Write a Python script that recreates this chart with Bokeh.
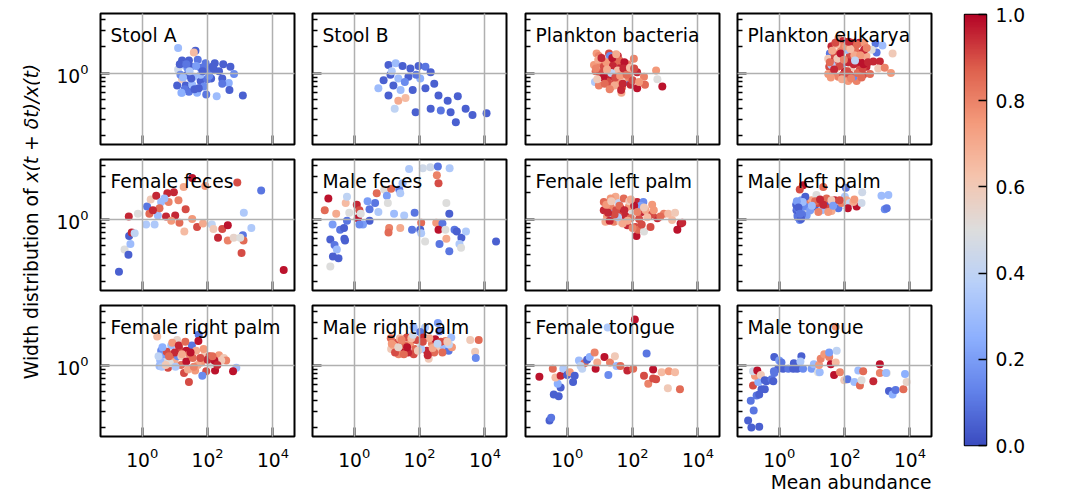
import numpy as np
from bokeh.plotting import figure
from bokeh.layouts import row, column
from bokeh.models import (Range1d, FixedTicker, LinearColorMapper, ColumnDataSource, Label, Title,
                          CustomJSTickFormatter, PrintfTickFormatter)
from bokeh.transform import transform
from bokeh.embed import file_html
from bokeh.resources import INLINE

FONT = "DejaVu Sans"
FS = "18.7px"

# ---------------- data (log10 of mean abundance, log10 of width ratio, p-value) -------------
titles = ["Stool A", "Stool B", "Plankton bacteria", "Plankton eukarya",
          "Female feces", "Male feces", "Female left palm", "Male left palm",
          "Female right palm", "Male right palm", "Female tongue", "Male tongue"]

sa_lx = [1.10,1.63,1.58,1.22,1.43,1.70,1.17,1.10,1.38,1.79,1.99,2.22,2.48,2.70,2.81,2.19,2.11,2.45,2.65,2.45,2.67,3.08,2.28,1.96,1.68,1.43,1.22,1.07,1.22,1.33,1.53,1.79,1.89,1.58,1.38,1.17,1.79,1.99,1.73,1.48,1.94,2.35,
         1.15,1.25,1.35,1.50,1.65,1.85,2.05,1.30,1.45,1.60,2.15,1.20]
sa_ly = [0.28,0.25,0.23,0.14,0.14,0.15,0.09,0.04,0.06,0.06,0.04,0.11,0.10,0.07,-0.01,0.04,-0.06,-0.06,-0.11,-0.12,-0.19,-0.25,-0.26,-0.24,-0.22,-0.21,-0.22,-0.14,-0.07,-0.14,-0.13,-0.09,-0.15,-0.04,-0.02,-0.02,-0.02,-0.07,-0.17,0.07,0.11,0.02,
         0.10,-0.05,0.10,-0.06,0.08,0.02,-0.03,-0.18,0.02,-0.18,0.07,-0.22]
sa_p = [0.30,0.05,0.65,0.05,0.05,0.10,0.30,0.45,0.15,0.10,0.10,0.05,0.05,0.05,0.15,0.05,0.05,0.05,0.25,0.10,0.05,0.05,0.30,0.10,0.25,0.10,0.30,0.05,0.60,0.05,0.30,0.05,0.15,0.30,0.05,0.15,0.30,0.10,0.05,0.05,0.10,0.05,
        0.05,0.30,0.10,0.05,0.20,0.05,0.15,0.10,0.35,0.05,0.05,0.25]

sb_lx = [1.05,1.27,1.48,1.72,1.97,2.18,1.11,1.35,1.66,2.02,2.34,1.20,1.42,1.05,1.35,1.57,1.24,1.79,2.18,2.58,2.86,3.17,3.41,3.62,4.05,2.95,2.34,1.88,2.65,3.11,0.74,0.90,1.55,1.90,1.15,2.45]
sb_ly = [0.09,0.11,0.08,0.05,0.08,0.07,-0.02,-0.06,-0.04,-0.06,0.01,-0.14,-0.19,-0.25,-0.31,-0.28,-0.40,-0.19,-0.17,-0.25,-0.31,-0.26,-0.40,-0.47,-0.45,-0.44,-0.40,-0.44,-0.42,-0.55,-0.17,-0.08,-0.10,-0.02,0.02,-0.12]
sb_p = [0.05,0.30,0.05,0.05,0.05,0.10,0.05,0.30,0.05,0.25,0.05,0.05,0.30,0.05,0.70,0.65,0.40,0.05,0.05,0.05,0.05,0.05,0.05,0.05,0.05,0.05,0.05,0.05,0.10,0.05,0.30,0.05,0.15,0.10,0.35,0.05]

pb_lx = [0.90,1.28,1.55,1.33,1.51,2.04,0.82,1.02,0.87,1.17,1.63,1.79,1.94,2.14,2.35,2.72,2.76,2.91,2.38,2.14,0.85,0.97,1.33,1.66,1.84,1.48,1.17,1.73,1.94,1.07,1.43,1.58,1.28,1.79,1.31,1.53,1.68,0.97,1.12,1.89,
         1.00,1.20,1.40,1.60,1.25,1.45,1.70,1.85,1.55,1.10,2.00,1.35,0.95,1.75,2.20,
         0.88,1.05,1.15,1.22,1.38,1.47,1.62,1.72,1.82,1.92,2.05,1.30,1.50,1.65,0.92]
pb_ly = [0.22,0.22,0.19,0.15,0.13,0.16,0.09,0.11,0.02,0.06,0.06,0.04,0.02,0.01,-0.04,0.03,-0.07,-0.15,-0.13,-0.17,-0.10,-0.14,-0.16,-0.22,-0.10,-0.09,-0.07,-0.06,-0.13,-0.02,-0.02,0.00,-0.04,0.09,0.19,-0.11,-0.16,0.19,0.07,-0.05,
         0.00,0.12,0.08,0.14,-0.10,-0.14,-0.12,0.10,0.03,-0.05,-0.08,0.00,0.15,0.12,-0.10,
         0.05,0.17,-0.12,0.04,0.17,-0.05,-0.03,0.05,-0.02,0.06,0.05,-0.18,0.21,-0.19,-0.07]
pb_p = [0.75,0.90,0.95,0.95,0.85,0.80,0.75,0.80,0.85,0.70,0.95,0.90,0.80,0.95,0.80,0.75,0.50,0.98,0.85,0.98,0.35,0.80,0.80,0.70,0.10,0.90,0.65,0.60,0.95,0.60,0.20,0.90,0.95,0.95,0.15,0.75,0.85,0.80,0.90,0.80,
        0.90,0.75,0.95,0.85,0.90,0.70,0.95,0.80,0.65,0.98,0.90,0.40,0.70,0.98,0.75,
        0.80,0.95,0.85,0.70,0.98,0.90,0.75,0.95,0.85,0.65,0.90,0.80,0.70,0.95,0.60]

pe_lx = [1.81,1.96,2.21,2.45,2.60,2.95,3.16,2.98,3.47,2.88,3.08,3.03,3.23,3.42,1.60,1.55,1.50,1.53,1.50,1.81,2.11,2.37,2.27,2.57,2.78,2.67,2.37,1.96,2.16,1.86,2.06,2.47,2.67,1.76,2.01,2.47,1.70,2.21,2.83,2.32,1.60,2.16,
         1.70,1.90,2.10,2.30,2.50,1.65,1.85,2.05,2.40,2.60,1.75,2.20,1.95,2.55,
         1.55,1.62,1.68,1.78,1.88,1.98,2.08,2.18,2.28,2.38,2.48,2.58,2.68,1.58,1.72,1.92,2.12,2.32,2.52,2.72]
pe_ly = [0.39,0.36,0.34,0.34,0.34,0.33,0.31,0.23,0.22,0.13,0.13,0.05,0.06,0.00,0.30,0.22,0.16,0.07,-0.01,-0.04,-0.09,-0.09,-0.04,-0.02,-0.01,0.07,0.11,0.11,0.19,0.24,0.26,0.22,0.19,0.06,0.02,0.04,0.15,0.06,0.26,0.26,0.09,-0.02,
         0.20,0.30,0.12,0.20,0.12,0.00,0.08,0.30,0.00,0.26,0.32,-0.06,-0.02,0.05,
         0.12,0.25,0.04,0.16,0.22,0.15,0.02,0.27,0.10,0.32,0.20,0.10,0.28,-0.05,0.34,-0.07,0.35,0.14,-0.05,0.12]
pe_p = [0.70,0.95,0.95,0.98,0.75,0.10,0.30,0.10,0.60,0.95,0.95,0.60,0.80,0.75,0.95,0.10,0.60,0.90,0.75,0.80,0.75,0.80,0.15,0.90,0.85,0.95,0.95,0.20,0.90,0.75,0.30,0.95,0.70,0.70,0.98,0.90,0.95,0.60,0.50,0.85,0.35,0.90,
        0.90,0.80,0.95,0.70,0.98,0.80,0.90,0.75,0.85,0.95,0.65,0.80,0.90,0.90,
        0.85,0.70,0.95,0.60,0.98,0.80,0.90,0.65,0.95,0.85,0.75,0.98,0.80,0.75,0.90,0.70,0.95,0.40,0.85,0.95]

ff_lx = [-0.71,-0.54,-0.42,-0.36,-0.40,-0.32,-0.23,-0.41,-0.13,0.12,0.15,0.22,0.26,0.43,0.48,0.38,0.58,0.53,0.77,0.81,0.73,0.97,1.11,1.14,1.01,1.29,1.27,1.53,1.33,1.53,1.68,1.93,1.86,2.13,2.18,2.32,2.45,2.62,2.62,2.80,2.91,3.11,3.08,3.10,3.04,3.00,3.34,3.64,4.33,0.68,0.89,0.33]
ff_ly = [-0.59,-0.34,-0.40,-0.28,-0.19,-0.15,-0.16,0.03,0.06,-0.06,0.14,0.06,0.22,0.26,0.04,-0.06,0.19,0.12,0.29,0.19,0.03,0.30,0.21,-0.04,0.04,-0.14,0.36,0.46,0.11,0.00,-0.09,0.37,-0.05,-0.06,-0.11,-0.21,-0.11,-0.07,-0.24,-0.21,0.41,0.07,-0.18,-0.24,-0.38,-0.21,-0.10,0.32,-0.57,0.23,-0.02,0.10]
ff_p = [0.05,0.50,0.05,0.30,0.05,0.95,0.40,0.95,0.50,0.35,0.10,0.85,0.60,0.95,0.30,0.35,0.30,0.85,0.95,0.80,0.95,0.95,0.80,0.85,0.95,0.65,0.70,0.98,0.90,0.75,0.90,0.75,0.70,0.40,0.60,0.95,0.90,0.98,0.80,0.55,0.90,0.35,0.10,0.85,0.90,0.50,0.35,0.10,0.98,0.30,0.75,0.95]

mf_lx = [-0.79,-0.90,-0.55,-0.26,-0.22,-0.15,0.08,0.16,0.11,0.20,0.47,0.47,0.27,0.64,0.69,0.74,0.92,1.00,1.03,1.13,1.22,1.38,1.41,1.48,1.68,1.53,1.85,1.77,1.41,1.07,1.05,2.05,2.02,2.05,2.17,2.10,2.33,2.56,2.53,2.58,2.92,2.82,2.91,2.51,2.70,2.58,2.79,2.82,2.61,2.91,3.07,3.14,3.28,3.42,3.22,3.27,4.34,-0.66,-0.43,-0.31,-0.73,-0.60,-0.53,-0.65,-0.48,-0.73,-0.30,-0.28,-0.22,0.41,0.16]
mf_ly = [0.23,0.10,0.06,0.18,0.25,0.07,0.16,0.10,0.01,0.06,0.11,-0.02,-0.06,0.18,0.29,0.08,0.33,0.26,0.18,0.34,0.06,0.33,0.29,0.40,0.56,0.04,0.07,-0.12,-0.10,-0.10,-0.15,-0.04,-0.12,-0.16,-0.25,0.57,0.58,0.59,0.49,0.40,0.57,0.18,0.06,-0.04,-0.05,-0.12,-0.12,-0.22,-0.28,-0.36,-0.12,-0.14,-0.21,-0.14,-0.28,-0.32,-0.25,-0.06,-0.12,-0.10,-0.23,-0.29,-0.34,-0.42,-0.44,-0.53,-0.22,-0.24,-0.02,0.20,-0.06]
mf_p = [0.98,0.85,0.70,0.65,0.40,0.50,0.95,0.90,0.98,0.50,0.10,0.05,0.20,0.10,0.85,0.35,0.50,0.20,0.50,0.85,0.30,0.10,0.35,0.30,0.35,0.35,0.10,0.10,0.70,0.80,0.85,0.85,0.05,0.35,0.50,0.45,0.45,0.10,0.80,0.90,0.35,0.50,0.05,0.75,0.10,0.98,0.50,0.70,0.10,0.10,0.10,0.05,0.05,0.35,0.35,0.50,0.05,0.20,0.10,0.05,0.05,0.10,0.30,0.05,0.05,0.50,0.05,0.05,0.10,0.20,0.15]

fl_lx = [1.12,1.12,1.22,1.33,1.48,1.58,1.73,1.68,1.43,1.63,1.84,1.89,1.99,2.14,2.33,2.30,2.09,2.12,2.17,2.35,2.50,2.55,2.60,2.76,2.96,3.09,3.30,3.21,3.37,3.47,3.52,1.17,1.38,1.79,1.94,1.63,1.33,1.50,1.90,2.20,2.40,1.30,2.00,1.70,2.60,1.55,2.25,
         1.20,1.35,1.45,1.60,1.75,1.85,2.05,2.15,2.28,2.45,2.65,2.85,1.25,1.95,2.35]
fl_ly = [0.19,0.10,0.03,0.14,0.25,0.18,0.23,0.08,-0.03,-0.03,-0.07,0.14,0.06,0.19,0.19,0.08,-0.09,-0.19,-0.12,-0.14,0.04,-0.09,0.16,0.01,0.06,0.06,0.07,-0.01,-0.12,-0.05,-0.04,-0.03,0.06,0.03,0.01,0.12,0.23,0.10,0.20,0.00,0.10,-0.02,-0.10,-0.05,0.05,0.02,0.15,
         0.16,0.20,0.05,0.15,0.10,-0.02,0.15,0.08,-0.06,0.02,0.10,0.03,0.07,0.22,0.13]
fl_p = [0.85,0.95,0.75,0.80,0.70,0.40,0.85,0.90,0.80,0.60,0.95,0.75,0.50,0.95,0.15,0.95,0.90,0.98,0.85,0.50,0.85,0.90,0.75,0.95,0.80,0.65,0.60,0.65,0.98,0.98,0.95,0.70,0.30,0.95,0.85,0.98,0.75,0.90,0.60,0.90,0.70,0.95,0.80,0.70,0.90,0.35,0.20,
        0.75,0.60,0.90,0.85,0.95,0.70,0.98,0.80,0.90,0.65,0.75,0.85,0.95,0.70,0.60]

ml_lx = [0.73,0.63,1.35,0.58,0.53,0.56,0.63,0.73,0.84,0.89,0.99,1.09,1.19,1.30,1.40,1.45,1.55,1.70,1.81,1.91,2.01,2.06,2.16,2.37,2.52,2.54,2.04,3.13,3.34,3.23,3.29,0.68,1.14,1.60,0.84,2.27,
         1.10,1.35,1.60,1.85,2.10,2.30,0.90,
         0.55,0.60,0.65,0.70,0.78,0.80,0.95,1.00,1.20,1.25,1.50,1.65,
         0.52,0.57,0.62,0.67,0.72,0.54,0.59,0.64]
ml_ly = [0.38,0.33,0.36,0.16,0.10,0.04,-0.01,0.12,0.19,0.08,0.21,0.14,0.18,0.10,0.16,0.23,0.12,0.21,0.12,0.18,0.25,0.21,0.18,0.14,0.18,0.30,0.35,0.26,0.27,0.11,0.12,0.21,0.27,0.21,0.04,0.19,
         0.20,0.16,0.09,0.21,0.12,0.22,0.15,
         0.12,0.07,0.18,0.05,0.14,0.25,0.10,0.15,0.08,0.22,0.08,0.15,
         0.16,0.02,0.10,0.00,0.19,0.20,0.13,0.06]
ml_p = [0.98,0.90,0.85,0.10,0.05,0.10,0.15,0.30,0.85,0.50,0.70,0.05,0.90,0.30,0.05,0.85,0.90,0.95,0.10,0.80,0.35,0.70,0.40,0.98,0.45,0.45,0.10,0.30,0.30,0.15,0.10,0.20,0.50,0.60,0.20,0.70,
        0.85,0.95,0.70,0.90,0.98,0.75,0.80,
        0.10,0.05,0.20,0.10,0.15,0.05,0.20,0.30,0.80,0.95,0.75,0.20,
        0.05,0.10,0.15,0.05,0.30,0.20,0.05,0.10]

fr_lx = [0.46,1.07,1.52,1.73,1.72,0.58,0.89,1.14,1.35,1.45,1.91,2.06,2.35,2.50,2.57,2.88,2.78,2.23,1.96,1.84,1.62,1.28,1.43,1.19,0.99,0.68,0.53,0.79,1.81,2.11,2.42,2.21,0.66,0.94,1.65,1.09,0.55,0.70,0.85,1.00,1.20,1.35,1.55,1.70,0.60,0.75,1.40,2.00,
         0.50,0.62,0.72,0.82,0.92,1.02,1.12,1.22,1.32,1.48,1.58,1.78,1.88,2.15,2.30]
fr_ly = [0.32,0.28,0.22,0.34,0.27,0.16,0.22,0.18,0.16,0.12,0.12,0.10,0.11,0.08,0.05,-0.03,-0.07,-0.06,-0.07,-0.12,-0.06,-0.09,-0.19,0.00,0.05,0.07,-0.01,-0.03,0.03,0.01,0.05,0.05,0.01,0.12,0.16,0.10,0.05,0.12,0.02,0.14,0.10,0.04,0.08,0.00,-0.02,0.15,-0.05,0.06,
         0.10,0.20,0.00,0.10,0.25,-0.02,0.22,0.12,0.26,0.14,-0.02,0.08,0.18,0.10,0.00]
fr_p = [0.65,0.55,0.10,0.10,0.98,0.15,0.30,0.90,0.98,0.80,0.60,0.90,0.75,0.60,0.80,0.30,0.98,0.98,0.90,0.15,0.75,0.90,0.90,0.85,0.70,0.45,0.30,0.90,0.75,0.50,0.60,0.98,0.60,0.85,0.70,0.15,0.30,0.20,0.50,0.95,0.60,0.98,0.85,0.70,0.35,0.90,0.70,0.95,
        0.40,0.25,0.60,0.85,0.75,0.35,0.95,0.70,0.85,0.98,0.80,0.90,0.75,0.85,0.95]

mr_lx = [1.82,2.17,2.56,2.61,2.97,3.55,3.81,3.70,3.72,2.02,1.12,1.13,1.31,1.46,1.61,1.71,1.87,2.02,2.12,2.22,2.38,2.48,2.58,2.73,2.89,2.99,2.28,2.79,1.36,1.56,1.82,1.20,1.40,1.55,1.90,2.05,2.30,2.65,2.90,1.65,2.45,
         1.15,1.25,1.35,1.45,1.52,1.62,1.75,1.95,2.10,2.25,2.40,2.55,2.70,2.85,1.80]
mr_ly = [0.42,0.42,0.47,0.38,0.31,0.28,0.28,0.15,0.08,0.37,0.30,0.18,0.25,0.20,0.31,0.24,0.18,0.24,0.31,0.16,0.24,0.29,0.18,0.22,0.16,0.20,0.07,0.27,0.12,0.16,0.12,0.22,0.30,0.22,0.28,0.18,0.30,0.26,0.23,0.14,0.14,
         0.24,0.14,0.20,0.28,0.12,0.20,0.30,0.16,0.26,0.11,0.19,0.24,0.14,0.26,0.34]
mr_p = [0.30,0.35,0.20,0.10,0.30,0.60,0.85,0.60,0.15,0.10,0.85,0.60,0.90,0.95,0.90,0.75,0.85,0.50,0.95,0.95,0.80,0.98,0.60,0.30,0.10,0.75,0.60,0.80,0.80,0.98,0.90,0.70,0.65,0.85,0.90,0.35,0.70,0.90,0.40,0.95,0.85,
        0.75,0.90,0.55,0.80,0.85,0.98,0.65,0.60,0.90,0.95,0.70,0.40,0.85,0.60,0.45]

ft_lx = [-0.85,-0.54,-0.49,-0.41,-0.26,-0.20,-0.29,-0.36,-0.44,-0.20,-0.12,0.00,0.08,0.18,0.23,0.36,0.46,0.53,0.61,0.69,0.84,0.87,0.92,1.14,1.24,1.26,1.31,1.46,1.51,1.63,1.84,2.02,2.07,2.43,2.35,2.48,2.63,2.63,2.72,2.89,3.11,3.30,3.08,3.45,0.41]
ft_ly = [-0.13,-0.62,-0.59,-0.33,-0.35,-0.25,-0.21,-0.14,-0.04,-0.12,-0.04,-0.11,-0.08,-0.19,-0.12,0.05,-0.04,0.02,0.06,0.09,0.14,-0.04,0.03,0.09,0.42,-0.11,0.03,0.10,-0.01,-0.01,-0.06,-0.04,0.51,0.13,-0.12,-0.21,-0.05,-0.15,-0.16,-0.08,-0.07,-0.08,-0.26,-0.27,-0.01]
ft_p = [0.98,0.05,0.10,0.05,0.05,0.05,0.25,0.65,0.85,0.95,0.35,0.05,0.75,0.05,0.05,0.30,0.40,0.85,0.05,0.25,0.80,0.98,0.70,0.98,0.35,0.15,0.80,0.60,0.30,0.85,0.95,0.85,0.98,0.10,0.90,0.80,0.98,0.90,0.90,0.65,0.75,0.65,0.60,0.85,0.40]

mt_lx = [-0.95,-0.85,-0.61,-0.78,-0.87,-0.69,-0.61,-0.80,-0.54,-0.64,-0.74,-0.80,-0.67,-0.56,-0.44,-0.39,-0.23,-0.18,-0.15,-0.15,0.00,0.07,-0.03,0.12,0.28,0.43,0.45,0.55,0.68,0.73,0.65,0.99,1.06,1.19,1.24,1.22,1.27,1.38,1.53,1.58,1.68,1.73,1.53,1.76,1.73,1.86,1.99,2.09,2.30,2.47,2.42,2.57,2.52,2.88,3.08,3.08,3.29,3.27,3.36,3.47,3.56,3.80,3.85,3.90,-0.16,-0.44]
mt_ly = [-0.62,-0.70,-0.69,-0.51,-0.40,-0.34,-0.33,-0.23,-0.27,-0.19,-0.12,-0.07,-0.06,-0.11,-0.17,-0.18,-0.16,-0.18,-0.09,0.09,0.05,0.03,-0.04,-0.04,-0.04,-0.04,0.02,-0.04,0.10,-0.04,0.04,-0.04,0.01,-0.08,-0.08,0.00,0.07,0.12,0.09,0.01,-0.11,0.43,0.14,0.16,0.03,-0.08,-0.17,-0.16,-0.19,-0.23,-0.06,-0.07,-0.17,-0.18,0.01,-0.09,-0.09,-0.09,-0.29,-0.33,-0.28,-0.27,-0.10,-0.19,-0.07,-0.27]
mt_p = [0.05,0.05,0.05,0.10,0.10,0.10,0.05,0.90,0.05,0.25,0.75,0.45,0.98,0.60,0.05,0.05,0.10,0.05,0.10,0.05,0.20,0.10,0.05,0.05,0.10,0.05,0.05,0.05,0.05,0.15,0.35,0.20,0.30,0.50,0.30,0.75,0.80,0.75,0.80,0.98,0.98,0.75,0.20,0.40,0.65,0.80,0.60,0.10,0.30,0.85,0.30,0.85,0.50,0.95,0.98,0.80,0.50,0.30,0.05,0.25,0.10,0.85,0.25,0.55,0.10,0.05]

panel_data = [(sa_lx, sa_ly, sa_p), (sb_lx, sb_ly, sb_p), (pb_lx, pb_ly, pb_p), (pe_lx, pe_ly, pe_p),
              (ff_lx, ff_ly, ff_p), (mf_lx, mf_ly, mf_p), (fl_lx, fl_ly, fl_p), (ml_lx, ml_ly, ml_p),
              (fr_lx, fr_ly, fr_p), (mr_lx, mr_ly, mr_p), (ft_lx, ft_ly, ft_p), (mt_lx, mt_ly, mt_p)]

x_ticks = [1, 100, 10000]
y_ticks = [1]
y_minor = [0.2, 0.3, 0.4, 0.5, 0.6, 0.7, 0.8, 0.9, 2, 3, 4]
cbar_ticks = [0.0, 0.2, 0.4, 0.6, 0.8, 1.0]

# ---------------- coolwarm palette ----------------
cw_pos = [0.0, 0.125, 0.25, 0.375, 0.5, 0.625, 0.75, 0.875, 1.0]
cw_rgb = [(59, 76, 192), (98, 130, 234), (141, 176, 254), (184, 208, 249), (221, 221, 221),
          (245, 196, 173), (244, 154, 123), (222, 96, 77), (180, 4, 38)]
tt = np.linspace(0, 1, 256)
chan = [np.interp(tt, cw_pos, [c[k] for c in cw_rgb]) for k in range(3)]
palette = ["#%02x%02x%02x" % (int(round(chan[0][i])), int(round(chan[1][i])), int(round(chan[2][i])))
           for i in range(256)]
mapper = LinearColorMapper(palette=palette, low=0, high=1)

X_LO, X_HI = 10 ** -1.275, 10 ** 4.66
Y_LO, Y_HI = 10 ** -0.80, 10 ** 0.667

col_borders = [(60, 9), (9, 9), (10, 9), (9, 11)]
row_borders = [(13, 7), (8, 7), (8, 61)]


def style_axis(ax, show_labels):
    ax.axis_line_color = None
    ax.major_tick_in = 9
    ax.major_tick_out = 0
    ax.minor_tick_in = 5
    ax.minor_tick_out = 0
    ax.major_tick_line_width = 2
    ax.minor_tick_line_width = 1.3
    ax.major_tick_line_color = "black"
    ax.minor_tick_line_color = "black"
    ax.major_label_text_font = FONT
    ax.major_label_text_color = "black"
    if show_labels:
        ax.major_label_text_font_size = FS
    else:
        ax.formatter = CustomJSTickFormatter(code="return ''")
        ax.major_label_text_font_size = "0px"
        ax.major_label_standoff = 0


rows = []
for i in range(3):
    figs = []
    for j in range(4):
        k = i * 4 + j
        lb, rb = col_borders[j]
        tb, bb = row_borders[i]
        p = figure(x_axis_type="log", y_axis_type="log",
                   x_range=Range1d(X_LO, X_HI), y_range=Range1d(Y_LO, Y_HI),
                   frame_width=194, frame_height=131,
                   min_border_left=lb, min_border_right=rb, min_border_top=tb, min_border_bottom=bb,
                   toolbar_location=None, output_backend="svg")
        p.background_fill_color = "white"
        p.border_fill_color = "white"
        p.outline_line_color = "black"
        p.outline_line_width = 2
        xt = FixedTicker(ticks=x_ticks)
        yt = FixedTicker(ticks=y_ticks, minor_ticks=y_minor)
        p.xaxis[0].ticker = xt
        p.yaxis[0].ticker = yt
        p.xgrid[0].ticker = xt
        p.ygrid[0].ticker = yt
        style_axis(p.xaxis[0], i == 2)
        style_axis(p.yaxis[0], j == 0)
        if i == 2:
            p.xaxis[0].major_label_standoff = 10
        if j == 0:
            p.yaxis[0].major_label_standoff = 12
        for g in (p.xgrid[0], p.ygrid[0]):
            g.grid_line_color = "#b0b0b0"
            g.grid_line_width = 1.5
            g.level = "annotation"
        lx, ly, pv = panel_data[k]
        n = min(len(lx), len(ly), len(pv))
        src = ColumnDataSource(dict(x=10 ** np.array(lx[:n]), y=10 ** np.array(ly[:n]), p=pv[:n]))
        p.scatter("x", "y", source=src, size=8, line_color=None,
                  fill_color=transform("p", mapper))
        p.add_layout(Label(x=10, y=109, x_units="screen", y_units="screen", text=titles[k],
                           text_font=FONT, text_font_size=FS, text_color="black",
                           text_baseline="alphabetic"))
        if i == 2 and j == 3:
            p.add_layout(Title(text="Mean abundance", align="right", text_font=FONT,
                               text_font_size=FS, text_font_style="normal", text_color="black",
                               standoff=0, offset=0), "below")
        figs.append(p)
    rows.append(row(*figs))

# ---------------- y label strip (frame aligned with the colorbar frame: 14..445) ----------------
yl = figure(width=40, height=497, x_range=Range1d(0, 1), y_range=Range1d(0, 1),
            min_border_left=0, min_border_right=0, min_border_top=14, min_border_bottom=52,
            x_axis_location=None, y_axis_location=None, toolbar_location=None, output_backend="svg")
yl.outline_line_color = None
yl.grid.visible = False
yl.add_layout(Label(x=30.5, y=257, x_units="screen", y_units="screen", angle=np.pi / 2,
                    text="Width distribution of", text_align="right", text_baseline="alphabetic",
                    text_font=FONT, text_font_size=FS, text_color="black"))
yl.add_layout(Label(x=30.5, y=263, x_units="screen", y_units="screen", angle=np.pi / 2,
                    text="x(t + δt)/x(t)", text_align="left", text_baseline="alphabetic",
                    text_font=FONT, text_font_size=FS, text_font_style="italic", text_color="black"))

# ---------------- colorbar ----------------
cb = figure(frame_width=22, frame_height=431,
            min_border_left=22, min_border_right=80, min_border_top=14, min_border_bottom=52,
            x_range=Range1d(0, 1), y_range=Range1d(0, 1),
            x_axis_location=None, y_axis_location="right", toolbar_location=None, output_backend="svg")
cb.grid.visible = False
grad = np.linspace(0, 1, 256).reshape(256, 1)
cb.image(image=[grad], x=0, y=0, dw=1, dh=1, color_mapper=mapper)
cb.outline_line_color = "black"
cb.outline_line_width = 1.5
ya = cb.yaxis[0]
ya.ticker = FixedTicker(ticks=cbar_ticks)
ya.formatter = PrintfTickFormatter(format="%.1f")
ya.axis_line_color = None
ya.major_tick_in = 8
ya.major_tick_out = 0
ya.major_tick_line_width = 1.5
ya.major_tick_line_color = "black"
ya.major_label_standoff = 9
ya.major_label_text_font = FONT
ya.major_label_text_font_size = FS
ya.major_label_text_color = "black"
cb.add_layout(Label(x=80.5, y=215.5, x_units="screen", y_units="screen", angle=np.pi / 2,
                    text="P-value lognormal fit", text_align="center", text_baseline="middle",
                    text_font=FONT, text_font_size=FS, text_color="black"))

layout = row(yl, column(*rows), cb)
open("out.html", "w").write(file_html(layout, INLINE))
